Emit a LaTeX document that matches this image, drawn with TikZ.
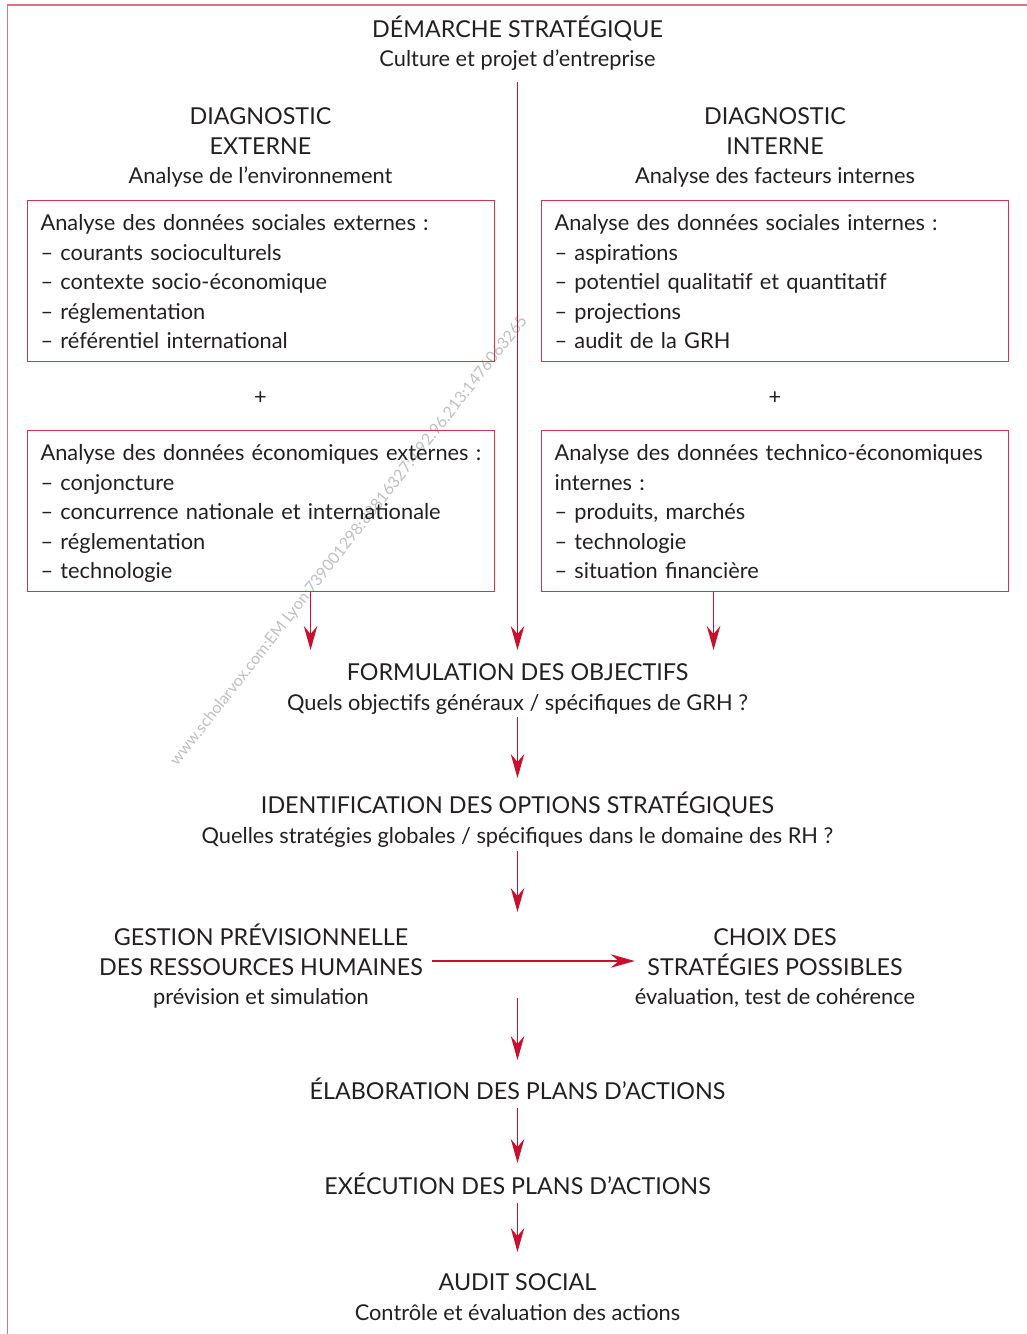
\documentclass[tikz,border=0pt]{standalone}
\usepackage{fontspec}
\setmainfont{Lato}
\usetikzlibrary{arrows.meta}

\definecolor{ink}{HTML}{231F20}
\definecolor{boxred}{HTML}{D2364F}
\definecolor{arrred}{HTML}{C8102E}
\definecolor{framepink}{HTML}{E07084}

% struts fixing the height of a first line and the depth of a last line
\newcommand\tst{\rule{0pt}{24pt}}
\newcommand\bst{\rule[-8pt]{0pt}{8pt}}
\newcommand\lst{\rule[-7pt]{0pt}{7pt}}
% capitals are set a little larger than running text
\newcommand\cp[1]{{\fontsize{23.3}{29.5}\selectfont #1}}

\tikzset{
  txt/.style={anchor=north, inner sep=0pt, align=center},
  databox/.style={draw=boxred, line width=1.1pt, anchor=north west,
    text width=441pt, inner xsep=13pt, inner ysep=6pt, align=left},
  arr/.style={draw=arrred, line width=1.3pt,
    -{Stealth[length=24pt, width=13.5pt, inset=8pt]}},
}

\begin{document}
\begin{tikzpicture}[x=1pt, y=-1pt, font=\fontsize{21.8}{29.5}\selectfont, text=ink]
\useasboundingbox (0,0) rectangle (1027,1334);

% outer frame: top and left rules
\draw[framepink, line width=1.3pt] (7.5,1334) -- (7.5,5) -- (1027,5);

% watermark
\node[rotate=51.8, text=black!25, inner sep=0pt, font=\fontsize{16}{16}\selectfont]
  (wm) at (349,541) {www.scholarvox.com:EM Lyon:739001298:88816327:4.92.96.213:1476063265};

% heading
\node[txt] (title) at (517.5,13) {\tst\cp{DÉMARCHE STRATÉGIQUE}\\Culture et projet d’entreprise\bst};

% diagnostic headings
\node[txt] (dext) at (260.5,100.5) {\tst\cp{DIAGNOSTIC}\\\cp{EXTERNE}\\Analyse de l’environnement\bst};
\node[txt] (dint) at (775,100.5) {\tst\cp{DIAGNOSTIC}\\\cp{INTERNE}\\Analyse des facteurs internes\bst};

% data boxes
\node[databox] (bse) at (27,200) {\tst Analyse des données sociales externes :\\
  – courants socioculturels\\
  – contexte socio-économique\\
  – réglementation\\
  – référentiel international\lst};
\node[databox] (bsi) at (541,200) {\tst Analyse des données sociales internes :\\
  – aspirations\\
  – potentiel qualitatif et quantitatif\\
  – projections\\
  – audit de la GRH\lst};

\node[txt] (pe) at (260.5,380) {\tst +};
\node[txt] (pi) at (775,380) {\tst +};

\node[databox] (bee) at (27,430) {\tst \mbox{Analyse des données économiques externes :}\\
  – conjoncture\\
  – concurrence nationale et internationale\\
  – réglementation\\
  – technologie\lst};
\node[databox] (bie) at (541,430) {\tst \mbox{Analyse des données technico-économiques}\\
  internes :\\
  – produits, marchés\\
  – technologie\\
  – situation financière\lst};

% main sequence
\node[txt] (formul) at (517.5,656.5) {\tst\cp{FORMULATION DES OBJECTIFS}\\Quels objectifs généraux / spécifiques de GRH ?\bst};
\node[txt] (ident) at (517.5,789.5) {\tst\cp{IDENTIFICATION DES OPTIONS STRATÉGIQUES}\\Quelles stratégies globales / spécifiques dans le domaine des RH ?\bst};
\node[txt] (gest) at (261,921.5) {\tst\cp{GESTION PRÉVISIONNELLE}\\\cp{DES RESSOURCES HUMAINES}\\prévision et simulation\bst};
\node[txt] (choix) at (775,921.5) {\tst\cp{CHOIX DES}\\\cp{STRATÉGIES POSSIBLES}\\évaluation, test de cohérence\bst};
\node[txt] (elab) at (517.5,1075.5) {\tst\cp{ÉLABORATION DES PLANS D’ACTIONS}\bst};
\node[txt] (exec) at (517.5,1170.5) {\tst\cp{EXÉCUTION DES PLANS D’ACTIONS}\bst};
\node[txt] (audit) at (517.5,1266.5) {\tst\cp{AUDIT SOCIAL}\\Contrôle et évaluation des actions\bst};

% connectors
\draw[arr, shorten <=7.5pt, shorten >=6.5pt] (title.south) -- (formul.north);
\draw[arr, shorten >=6.5pt] ([xshift=49.5pt]bee.south) -- ([xshift=49.5pt]bee.south |- formul.north);
\draw[arr, shorten >=6.5pt] ([xshift=-61.5pt]bie.south) -- ([xshift=-61.5pt]bie.south |- formul.north);
\draw[arr, shorten <=-1pt, shorten >=11.5pt] (formul.south) -- (ident.north);
\draw[arr, shorten >=9.5pt] (ident.south) -- (gest.north -| ident.south);
\draw[arr, shorten <=9pt] (gest.east |- 0,961) -- (choix.west |- 0,961);
\draw[arr, shorten <=-14.5pt, shorten >=15.5pt] (gest.south -| elab.north) -- (elab.north);
\draw[arr, shorten >=7.5pt] (elab.south) -- (exec.north);
\draw[arr, shorten >=14.5pt] (exec.south) -- (audit.north);
\end{tikzpicture}
\end{document}
